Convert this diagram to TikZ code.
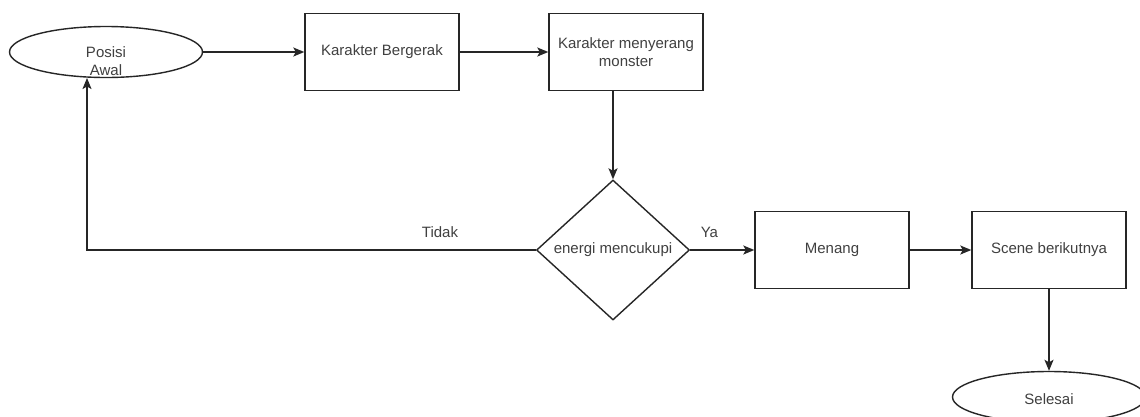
\documentclass[tikz,border=0pt]{standalone}
\usepackage{fontspec}
\setmainfont{Liberation Sans}
\usetikzlibrary{shapes.geometric,arrows.meta}
\begin{document}
\begin{tikzpicture}[x=1pt,y=-1pt,
  every node/.style={font=\fontsize{15}{18}\selectfont, text=black!75},
  proc/.style={draw=black!85, line width=1.4pt, minimum width=154pt, minimum height=77pt, inner sep=0pt, align=center},
  term/.style={draw=black!85, line width=1.4pt, ellipse, minimum width=193pt, minimum height=51pt, inner sep=0pt},
  dec/.style={draw=black!85, line width=1.4pt, diamond, minimum width=153pt, minimum height=140pt, inner sep=0pt, aspect=1.1},
  conn/.style={draw=black!85, line width=1.4pt, -{Stealth[length=11pt,width=9pt,inset=2.5pt]}}
]
\useasboundingbox (0,0) rectangle (1140,416);
\fill[white] (0,0) rectangle (1140,416);
\node[term] (start) at (106,52) {};
\node[align=center] (startlbl) at (106,61) {Posisi\\Awal};
\node[proc] (move) at (382,52) {Karakter Bergerak};
\node[proc] (attack) at (626,52) {Karakter menyerang\\monster};
\node[dec] (dia) at (613,250) {energi mencukupi};
\node[proc] (win) at (832,250) {Menang};
\node[proc] (next) at (1049,250) {Scene berikutnya};
\node[term] (end) at (1049,397) {};
\node (endlbl) at (1049,399) {Selesai};
\coordinate (bend) at (87,250);
\coordinate (atk) at (613,90);
\draw[conn] (start.east) -- (move.west);
\draw[conn] (move.east) -- (attack.west);
\draw[conn] (atk) -- (dia.north);
\draw[conn] (dia.east) -- node[pos=0.3, above=8pt] (ya) {Ya} (win.west);
\draw[conn] (win.east) -- (next.west);
\draw[conn] (next.south) -- (end.north);
\draw[conn] (dia.west) -- (bend) -- (bend |- 0,78);
\node (tidak) at (440,232) {Tidak};
\end{tikzpicture}
\end{document}
